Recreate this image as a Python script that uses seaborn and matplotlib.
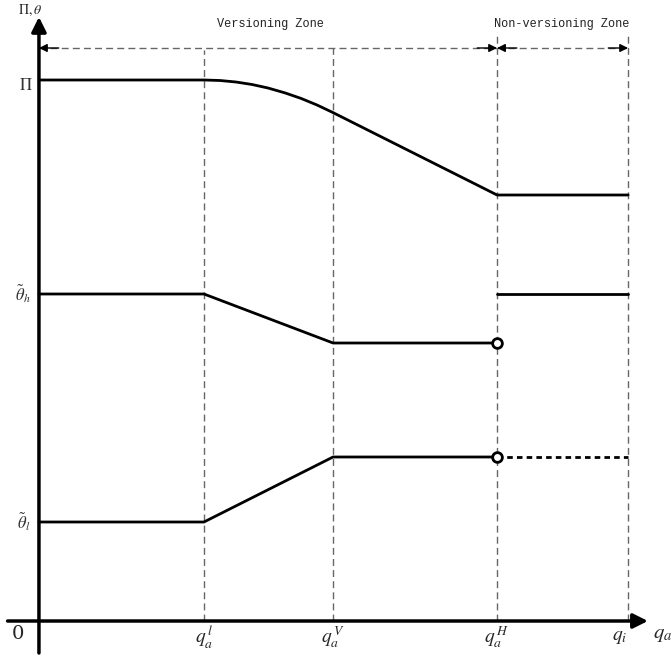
import numpy as np
import pandas as pd
import matplotlib
matplotlib.use("Agg")
import matplotlib.pyplot as plt
import seaborn as sns

# thresholds on the q_a axis (1 unit = distance 0 -> q_a^l)
q_l, q_V, q_H, q_i = 1.0, 1.782, 2.776, 3.570

# profit curve
pi_x = [0.0, 1.0, 1.097, 1.194, 1.291, 1.388, 1.491, 1.588, 1.685, 1.782,
        2.776, 3.570]
pi_y = [5.41, 5.41, 5.405, 5.39, 5.365, 5.33, 5.281, 5.226, 5.16, 5.084,
        4.26, 4.26]

# theta_h
th_h_x = [0.0, 1.0, 1.782, 2.776]
th_h_y = [3.27, 3.27, 2.78, 2.78]
th_h_nv_x = [2.776, 3.570]
th_h_nv_y = [3.27, 3.27]

# theta_l
th_l_x = [0.0, 1.0, 1.782, 2.776]
th_l_y = [0.99, 0.99, 1.64, 1.64]
th_l_nv_x = [2.776, 3.570]
th_l_nv_y = [1.64, 1.64]

ylabels = [r"$\Pi$", r"$\tilde{\theta}_h$", r"$\tilde{\theta}_l$"]
xlabels = [r"$q_a^{\,l}$", r"$q_a^{\,V}$", r"$q_a^{\,H}$", r"$q_i$"]

sns.set_theme(style="white")
plt.rcParams["mathtext.fontset"] = "stix"
plt.rcParams["font.family"] = ["DejaVu Serif"]

fig = plt.figure(figsize=(6.71, 6.56), dpi=100)
ax = fig.add_axes([0, 0, 1, 1])
ax.set_xlim(-0.236, 3.830)
ax.set_ylim(-0.35, 6.21)
ax.axis("off")

# main curves
kw = dict(color="black", linewidth=2, ax=ax, legend=False, sort=False)
sns.lineplot(x=pi_x, y=pi_y, **kw)
sns.lineplot(x=th_h_x, y=th_h_y, **kw)
sns.lineplot(x=th_h_nv_x, y=th_h_nv_y, **kw)
sns.lineplot(x=th_l_x, y=th_l_y, **kw)
ax.plot(th_l_nv_x, th_l_nv_y, color="black", linewidth=2, dashes=(2, 1.5))

# open circles at q_a^H
ax.plot([q_H, q_H], [th_h_y[-1], th_l_y[-1]], "o", ms=7, mfc="white",
        mec="black", mew=2, zorder=5)

# vertical guide lines
grey = "#666666"
for xv, top in zip([q_l, q_V, q_H, q_i], [5.71, 5.73, 5.89, 5.89]):
    ax.plot([xv, xv], [0, top], color=grey, lw=1, dashes=(5, 3), zorder=1)

# zone spans
y_zone = 5.73
ax.plot([0, q_H], [y_zone, y_zone], color=grey, lw=1, dashes=(5, 3))
ax.plot([q_H, q_i], [y_zone, y_zone], color=grey, lw=1, dashes=(5, 3))
ah = dict(arrowstyle="-|>", color="black", lw=1, mutation_scale=12,
          shrinkA=0, shrinkB=0)
for tip, tail in [(0.0, 0.12), (q_H, q_H - 0.12), (q_H, q_H + 0.12),
                  (q_i, q_i - 0.12)]:
    ax.annotate("", xy=(tip, y_zone), xytext=(tail, y_zone), arrowprops=ah)

mono = ["Liberation Mono", "DejaVu Sans Mono"]
ax.text(1.405, 5.97, "Versioning Zone", family=mono,
        fontsize=8.6, ha="center", va="center", color="#222222")
ax.text(3.17, 5.97, "Non-versioning Zone", family=mono,
        fontsize=8.6, ha="center", va="center", color="#222222")

# axes with arrows
ax.annotate("", xy=(0, 6.04), xytext=(0, -0.32),
            arrowprops=dict(arrowstyle="-|>", color="black", lw=2.5,
                            mutation_scale=22, shrinkA=0, shrinkB=0))
ax.annotate("", xy=(3.69, 0), xytext=(-0.19, 0),
            arrowprops=dict(arrowstyle="-|>", color="black", lw=2.5,
                            mutation_scale=22, shrinkA=0, shrinkB=0))

# axis labels
ax.text(-0.055, 6.11, r"$\Pi,\theta$", fontsize=10, ha="center",
        va="center")
for lab, yv, xl in zip(ylabels, [pi_y[0] - 0.06, th_h_y[0], th_l_y[0]],
                       [-0.04, -0.05, -0.05]):
    ax.text(xl, yv, lab, fontsize=12, ha="right", va="center",
            color="#333333")
ax.text(-0.13, -0.13, "0", fontsize=14, ha="center", va="center")
for lab, xv in zip(xlabels, [q_l, q_V, q_H, q_i - 0.05]):
    ax.text(xv, -0.16, lab, fontsize=14, ha="center", va="center")
ax.text(3.72, -0.13, r"$q_a$", fontsize=15, ha="left", va="center")

fig.savefig("out.png", dpi=100)
